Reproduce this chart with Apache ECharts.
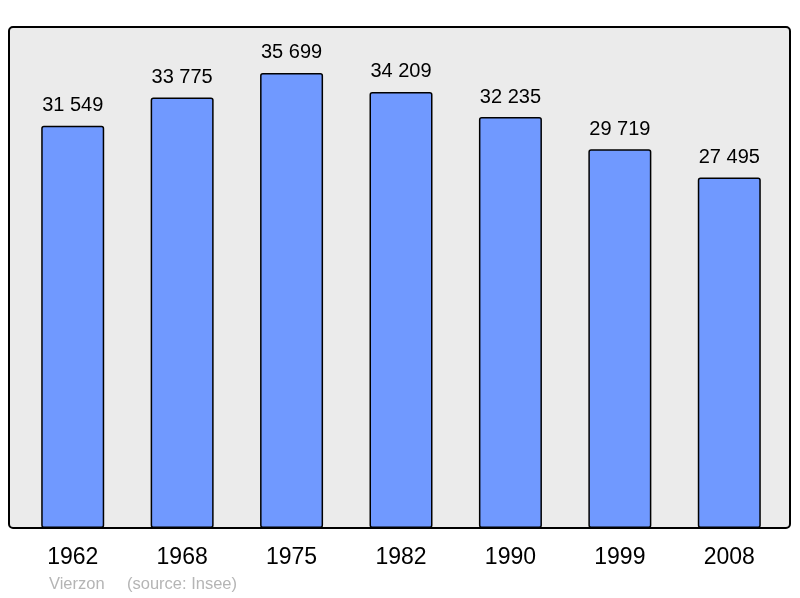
<!DOCTYPE html>
<html>
<head>
<meta charset="utf-8">
<script src="https://cdn.jsdelivr.net/npm/echarts@6/dist/echarts.min.js"></script>
<style>
  html, body { margin: 0; padding: 0; background: #fff; }
  #chart { width: 800px; height: 598px; }
</style>
</head>
<body>
<div id="chart"></div>
<script>
// population of Vierzon by census year
var years = ['1962', '1968', '1975', '1982', '1990', '1999', '2008'];
var population = [31549, 33775, 35699, 34209, 32235, 29719, 27495];

function fmt(n) {
  return String(n).replace(/\B(?=(\d{3})+(?!\d))/g, ' ');
}

var myChart = echarts.init(document.getElementById('chart'));
myChart.setOption({
  animation: false,
  textStyle: { fontFamily: '"Liberation Sans", Arial, sans-serif' },
  graphic: {
    z: -10,
    elements: [
      {
        type: 'rect',
        z: -10,
        shape: { x: 9, y: 27, width: 781, height: 501, r: 4 },
        style: { fill: '#ebebeb', stroke: '#000', lineWidth: 2 }
      },
      {
        type: 'text',
        left: 49, top: 576,
        style: { text: 'Vierzon', fill: '#b5b5b5', fontSize: 16.5,
                 fontFamily: '"Liberation Sans", Arial, sans-serif' }
      },
      {
        type: 'text',
        left: 127, top: 576,
        style: { text: '(source: Insee)', fill: '#b5b5b5', fontSize: 16.5,
                 fontFamily: '"Liberation Sans", Arial, sans-serif' }
      }
    ]
  },
  grid: { left: 18, right: 16, top: 27, bottom: 70, containLabel: false },
  xAxis: {
    type: 'category',
    data: years,
    axisLine: { show: false },
    axisTick: { show: false },
    axisLabel: { fontSize: 23, color: '#000', margin: 18 }
  },
  yAxis: {
    type: 'value',
    min: 0,
    max: 39300,
    show: false,
    splitLine: { show: false }
  },
  series: [{
    type: 'bar',
    data: population,
    barWidth: 63,
    itemStyle: {
      color: '#7099ff',
      borderColor: '#000',
      borderWidth: 1.5,
      borderRadius: 2
    },
    label: {
      show: true,
      position: 'top',
      distance: 10,
      fontSize: 20,
      color: '#000',
      formatter: function (p) { return fmt(p.value); }
    }
  }]
});
</script>
</body>
</html>
